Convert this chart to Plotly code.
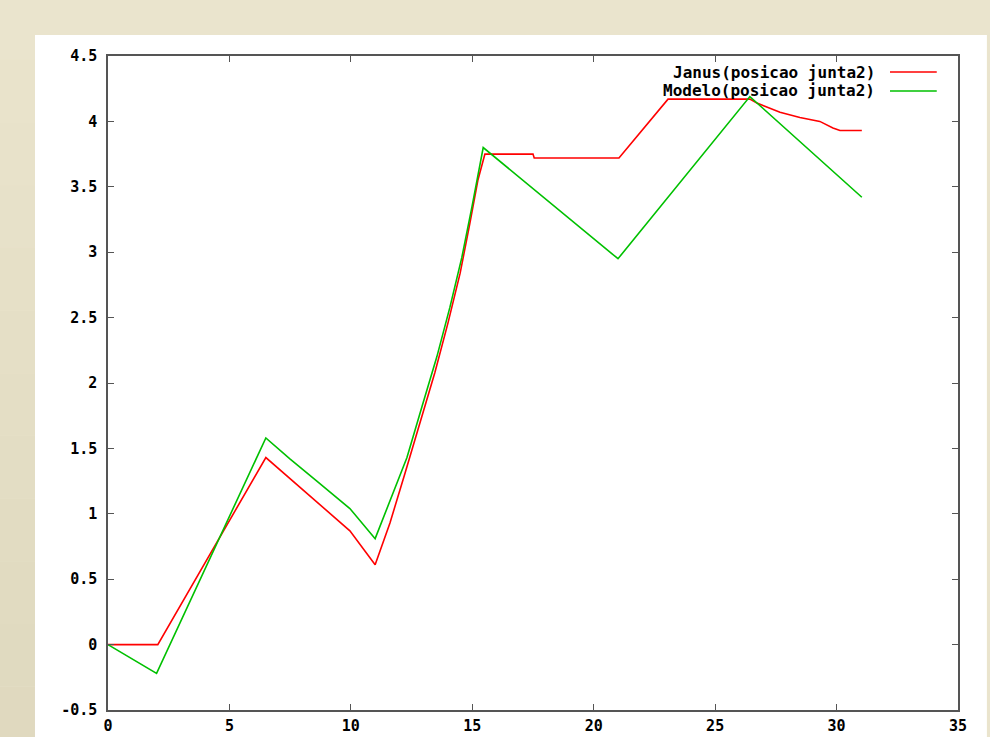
import plotly.graph_objects as go

# Joint 2 position: measured robot (Janus) vs. model
janus_t = [0.0, 2.05, 6.5, 8.6, 9.96, 11.0, 11.61, 12.23, 12.85, 13.46,
           14.0, 14.5, 14.9, 15.23, 15.52, 17.5, 17.55, 21.04, 23.06,
           26.43, 26.72, 27.67, 28.49, 29.31, 29.85, 30.14, 31.04]
janus_pos = [0.0, 0.0, 1.43, 1.09, 0.87, 0.61, 0.93, 1.31, 1.69, 2.08,
             2.46, 2.84, 3.22, 3.55, 3.75, 3.75, 3.72, 3.72, 4.17,
             4.17, 4.14, 4.07, 4.03, 4.00, 3.95, 3.93, 3.93]

modelo_t = [0.0, 2.0, 6.5, 7.49, 8.6, 9.96, 11.0, 11.61, 12.31, 12.93,
            13.54, 14.08, 14.57, 14.99, 15.45, 21.0, 26.43, 31.04]
modelo_pos = [0.0, -0.22, 1.58, 1.42, 1.25, 1.04, 0.81, 1.10, 1.43, 1.82,
              2.20, 2.58, 2.96, 3.35, 3.80, 2.95, 4.19, 3.42]

series_names = ["Janus(posicao junta2)", "Modelo(posicao junta2)"]
series_colors = ["#FF0000", "#00C000"]

x_ticks = [0, 5, 10, 15, 20, 25, 30, 35]
y_ticks = [-0.5, 0, 0.5, 1, 1.5, 2, 2.5, 3, 3.5, 4, 4.5]
y_tick_text = ["-0.5", "0", "0.5", "1", "1.5", "2", "2.5", "3", "3.5", "4", "4.5"]

MONO = "DejaVu Sans Mono"
BG = "#EAE4CD"

fig = go.Figure()
for t, p, name, col in zip([janus_t, modelo_t], [janus_pos, modelo_pos],
                           series_names, series_colors):
    fig.add_trace(go.Scatter(x=t, y=p, mode="lines", name=name,
                             line=dict(color=col, width=1.6),
                             showlegend=False))

shapes = []
# slight darkening of the left margin toward the bottom
n_bands = 12
for i in range(n_bands):
    f = i / (n_bands - 1)
    r = int(234 - 10 * f)
    g = int(228 - 11 * f)
    b = int(205 - 14 * f)
    shapes.append(dict(type="rect", xref="paper", yref="paper", layer="below",
                       x0=-0.13, x1=-0.0859,
                       y0=1.09 - (i + 1) * 1.15 / n_bands,
                       y1=1.09 - i * 1.15 / n_bands,
                       fillcolor=f"rgb({r},{g},{b})", line=dict(width=0)))
# white canvas behind the plot
shapes.append(dict(type="rect", xref="paper", yref="paper", layer="below",
                   x0=-0.0859, x1=1.034, y0=-0.06, y1=1.032,
                   fillcolor="white", line=dict(width=0)))

# key: right-aligned labels with line samples to their right
annotations = []
key_rows = [0.9755, 0.9465]
for name, col, yy in zip(series_names, series_colors, key_rows):
    annotations.append(dict(xref="paper", yref="paper", x=0.9047, y=yy,
                            xanchor="right", yanchor="middle", showarrow=False,
                            text=name,
                            font=dict(family=MONO, size=16, color="black",
                                      weight="bold")))
    shapes.append(dict(type="line", xref="paper", yref="paper",
                       x0=0.92, x1=0.975, y0=yy, y1=yy,
                       line=dict(color=col, width=1.6)))

axis_common = dict(showgrid=False, zeroline=False, showline=True,
                   linecolor="#555555", linewidth=1.5, mirror="ticks",
                   ticks="inside", ticklen=6, tickwidth=1.2, tickcolor="#555555",
                   automargin=False,
                   tickfont=dict(family=MONO, size=15, color="black",
                                 weight="bold"))

fig.update_layout(
    width=990, height=737,
    margin=dict(l=108, r=32, t=56, b=27),
    paper_bgcolor=BG, plot_bgcolor="white",
    xaxis=dict(range=[0, 35], tickvals=x_ticks,
               ticktext=[str(v) for v in x_ticks],
               ticklabelstandoff=1, **axis_common),
    yaxis=dict(range=[-0.5, 4.5], tickvals=y_ticks, ticktext=y_tick_text,
               ticklabelstandoff=6, **axis_common),
    shapes=shapes, annotations=annotations,
)

fig.write_html("out.html")
